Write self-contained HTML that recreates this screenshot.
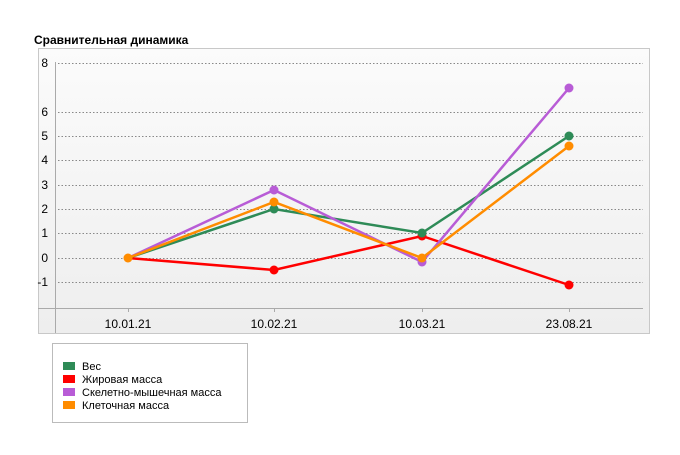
<!DOCTYPE html>
<html><head><meta charset="utf-8"><style>body{margin:0;background:#fff;}</style></head><body>
<svg width="680" height="450" xmlns="http://www.w3.org/2000/svg" font-family="Liberation Sans, DejaVu Sans, sans-serif">
<defs><linearGradient id="g" x1="0" y1="0" x2="0" y2="1"><stop offset="0" stop-color="#fbfbfb"/><stop offset="1" stop-color="#eeeeee"/></linearGradient></defs>
<text x="34" y="44" font-size="12" font-weight="bold" fill="#000">Сравнительная динамика</text>
<rect x="38.5" y="48.5" width="611" height="285" fill="url(#g)" stroke="#c8c8c8"/>
<g stroke="#888" stroke-dasharray="1.5,2" stroke-width="1">
<line x1="58" x2="643" y1="63.5" y2="63.5"/><line x1="58" x2="643" y1="112.5" y2="112.5"/>
<line x1="58" x2="643" y1="136.5" y2="136.5"/><line x1="58" x2="643" y1="160.5" y2="160.5"/>
<line x1="58" x2="643" y1="185.5" y2="185.5"/><line x1="58" x2="643" y1="209.5" y2="209.5"/>
<line x1="58" x2="643" y1="233.5" y2="233.5"/><line x1="58" x2="643" y1="258.5" y2="258.5"/>
<line x1="58" x2="643" y1="282.5" y2="282.5"/></g>
<line x1="55.5" y1="62" x2="55.5" y2="333" stroke="#aaa"/>
<line x1="38" y1="308.5" x2="643" y2="308.5" stroke="#aaa"/>
<g stroke="#aaa"><line x1="128.5" x2="128.5" y1="308" y2="312"/><line x1="274.5" x2="274.5" y1="308" y2="312"/><line x1="422.5" x2="422.5" y1="308" y2="312"/><line x1="569.5" x2="569.5" y1="308" y2="312"/></g>
<g font-size="12" fill="#000" text-anchor="end">
<text x="48" y="67">8</text><text x="48" y="116">6</text><text x="48" y="140">5</text><text x="48" y="164">4</text><text x="48" y="189">3</text><text x="48" y="213">2</text><text x="48" y="237">1</text><text x="48" y="262">0</text><text x="48" y="286">-1</text></g>
<g font-size="12" fill="#000" text-anchor="middle">
<text x="128" y="328">10.01.21</text><text x="274" y="328">10.02.21</text><text x="422" y="328">10.03.21</text><text x="569" y="328">23.08.21</text></g>
<g fill="none" stroke-width="2.5">
<polyline points="128,258 274,270 422,236 569,285" stroke="#ff0000"/>
<polyline points="128,258 274,209 422,233 569,136" stroke="#2e8b57"/>
<polyline points="128,258 274,190 422,262 569,88" stroke="#b85cd6"/>
<polyline points="128,258 274,202 422,258 569,146" stroke="#ff8c00"/></g>
<g fill="#ff0000"><circle cx="274" cy="270" r="4.5"/><circle cx="422" cy="236" r="4.5"/><circle cx="569" cy="285" r="4.5"/></g>
<g fill="#2e8b57"><circle cx="274" cy="209" r="4.5"/><circle cx="422" cy="233" r="4.5"/><circle cx="569" cy="136" r="4.5"/></g>
<g fill="#b85cd6"><circle cx="274" cy="190" r="4.5"/><circle cx="422" cy="262" r="4.5"/><circle cx="569" cy="88" r="4.5"/></g>
<g fill="#ff8c00"><circle cx="128" cy="258" r="4.5"/><circle cx="274" cy="202" r="4.5"/><circle cx="422" cy="258" r="4.5"/><circle cx="569" cy="146" r="4.5"/></g>
<rect x="52.5" y="343.5" width="195" height="79" fill="#fff" stroke="#bbb"/>
<rect x="63" y="362" width="12" height="8" fill="#2e8b57"/>
<rect x="63" y="375" width="12" height="8" fill="#ff0000"/>
<rect x="63" y="388" width="12" height="8" fill="#b85cd6"/>
<rect x="63" y="401" width="12" height="8" fill="#ff8c00"/>
<g font-size="11" fill="#000">
<text x="82" y="370">Вес</text><text x="82" y="383">Жировая масса</text><text x="82" y="396">Скелетно-мышечная масса</text><text x="82" y="409">Клеточная масса</text></g>
</svg>
</body></html>
